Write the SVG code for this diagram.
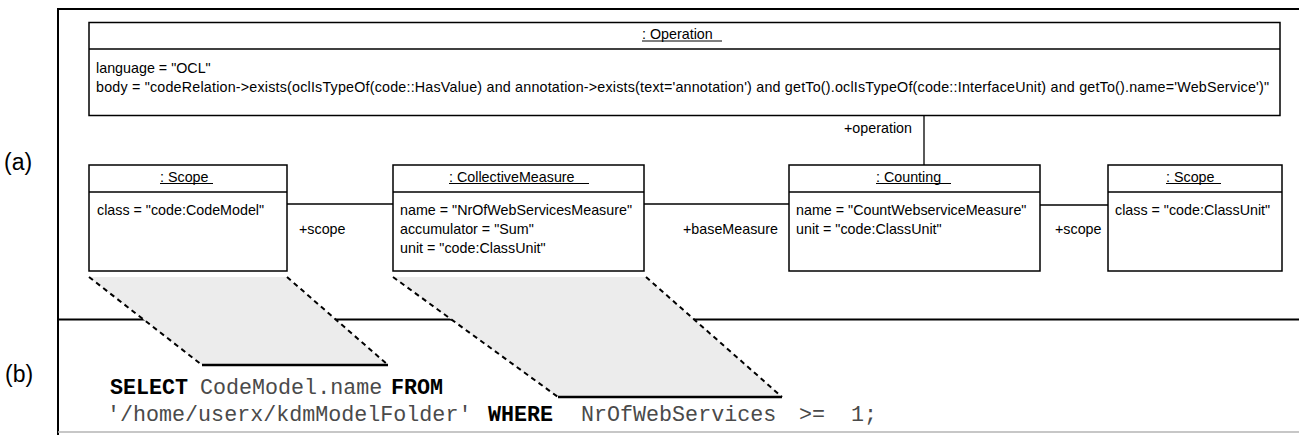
<svg xmlns="http://www.w3.org/2000/svg" width="1299" height="435" viewBox="0 0 1299 435">
  <defs>
    <style>
      .frame { fill: none; stroke: #000; stroke-width: 2; }
      .box { fill: #fff; stroke: #000; stroke-width: 1.5; }
      .div { stroke: #000; stroke-width: 1.5; }
      .ul { stroke: #000; stroke-width: 1; }
      .conn { stroke: #000; stroke-width: 1.3; fill: none; }
      .uml { font-family: "Liberation Sans", Arial, sans-serif; font-size: 14.3px; fill: #000; }
      .panel { font-family: "Liberation Sans", Arial, sans-serif; font-size: 23px; fill: #000; }
      .sql { font-family: "Liberation Mono", "Courier New", monospace; font-size: 21.7px; fill: #4a4a4a; }
      .kw { font-weight: bold; fill: #000; }
      .shade { fill: #ececec; stroke: none; }
      .dash { stroke: #000; stroke-width: 2; stroke-dasharray: 5 4; fill: none; }
      .base { stroke: #000; stroke-width: 2.5; }
    </style>
  </defs>

  <rect width="1299" height="435" fill="#fff"/>

  <!-- outer frame and panel separator -->
  <g id="frame">
    <line class="frame" x1="58" y1="9" x2="1299" y2="9"/>
    <line class="frame" x1="58" y1="8" x2="58" y2="435"/>
    <line class="frame" x1="58" y1="319.5" x2="1299" y2="319.5"/>
    <line x1="58" y1="432" x2="1299" y2="432" stroke="#b4b4b4" stroke-width="1.5"/>
  </g>

  <g id="panel-labels" class="panel">
    <text x="4" y="170">(a)</text>
    <text x="5" y="382">(b)</text>
  </g>

  <!-- projections of the model elements onto the query -->
  <g id="mappings">
    <polygon class="shade" points="89,277 287,277 388,365 202,365"/>
    <polygon class="shade" points="393,277 646,277 782,397 558,397"/>
    <line class="dash" x1="89" y1="277" x2="202" y2="365"/>
    <line class="dash" x1="287" y1="277" x2="388" y2="365"/>
    <line class="dash" x1="393" y1="277" x2="558" y2="397"/>
    <line class="dash" x1="646" y1="277" x2="782" y2="397"/>
    <line class="base" x1="202" y1="365" x2="388" y2="365"/>
    <line class="base" x1="558" y1="397" x2="782" y2="397"/>
  </g>

  <g id="connectors">
    <line class="conn" x1="924" y1="115.5" x2="924" y2="165"/>
    <line class="conn" x1="287" y1="204" x2="393" y2="204"/>
    <line class="conn" x1="644" y1="204" x2="789" y2="204"/>
    <line class="conn" x1="1040" y1="205" x2="1108" y2="205"/>
    <g class="uml">
      <text x="844" y="133">+operation</text>
      <text x="299" y="234">+scope</text>
      <text x="683" y="233.5">+baseMeasure</text>
      <text x="1055" y="234">+scope</text>
    </g>
  </g>

  <g id="operation">
    <rect class="box" x="89" y="22.5" width="1191" height="93"/>
    <line class="div" x1="89" y1="49" x2="1280" y2="49"/>
    <g class="uml">
      <text x="642" y="39">: Operation</text>
      <text x="96" y="72.5">language = "OCL"</text>
      <text x="96" y="91.5" textLength="1173" lengthAdjust="spacing">body = "codeRelation-&gt;exists(oclIsTypeOf(code::HasValue) and annotation-&gt;exists(text='annotation') and getTo().oclIsTypeOf(code::InterfaceUnit) and getTo().name='WebService')"</text>
    </g>
    <line class="ul" x1="642" y1="41" x2="722" y2="41"/>
  </g>

  <g id="scope-codemodel">
    <rect class="box" x="89" y="165" width="198" height="106"/>
    <line class="div" x1="89" y1="192" x2="287" y2="192"/>
    <g class="uml">
      <text x="160" y="181.5">: Scope</text>
      <text x="97" y="214.5">class = "code:CodeModel"</text>
    </g>
    <line class="ul" x1="160" y1="183.5" x2="213" y2="183.5"/>
  </g>

  <g id="collective-measure">
    <rect class="box" x="393" y="165" width="251" height="106"/>
    <line class="div" x1="393" y1="192" x2="644" y2="192"/>
    <g class="uml">
      <text x="449" y="181.5">: CollectiveMeasure</text>
      <text x="400" y="215">name = "NrOfWebServicesMeasure"</text>
      <text x="400" y="234">accumulator = "Sum"</text>
      <text x="400" y="253">unit = "code:ClassUnit"</text>
    </g>
    <line class="ul" x1="449" y1="183.5" x2="589" y2="183.5"/>
  </g>

  <g id="counting">
    <rect class="box" x="789" y="165" width="251" height="106"/>
    <line class="div" x1="789" y1="192" x2="1040" y2="192"/>
    <g class="uml">
      <text x="876" y="181.5">: Counting</text>
      <text x="796" y="215">name = "CountWebserviceMeasure"</text>
      <text x="796" y="234">unit = "code:ClassUnit"</text>
    </g>
    <line class="ul" x1="876" y1="183.5" x2="951" y2="183.5"/>
  </g>

  <g id="scope-classunit">
    <rect class="box" x="1108" y="165" width="174" height="106"/>
    <line class="div" x1="1108" y1="192" x2="1282" y2="192"/>
    <g class="uml">
      <text x="1166" y="181.5">: Scope</text>
      <text x="1115" y="215">class = "code:ClassUnit"</text>
    </g>
    <line class="ul" x1="1166" y1="183.5" x2="1221" y2="183.5"/>
  </g>

  <!-- generated query -->
  <g id="query" class="sql">
    <text y="394"><tspan class="kw" x="110">SELECT</tspan><tspan x="200">CodeModel.name</tspan><tspan class="kw" x="391">FROM</tspan></text>
    <text y="421"><tspan x="107">'/home/userx/kdmModelFolder'</tspan><tspan class="kw" x="488">WHERE</tspan><tspan x="581">NrOfWebServices</tspan><tspan x="799">&gt;=</tspan><tspan x="851">1;</tspan></text>
  </g>
</svg>
